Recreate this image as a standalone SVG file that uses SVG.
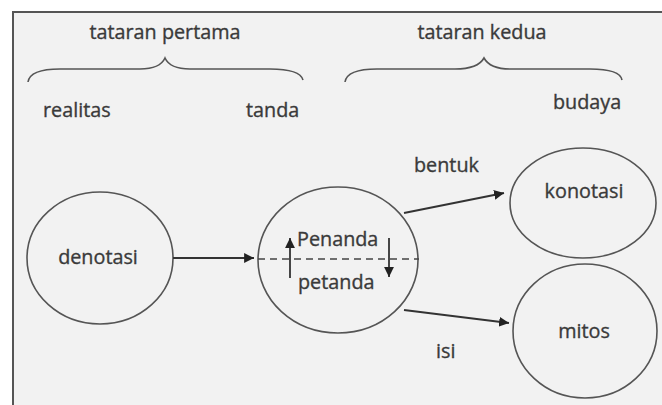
<svg xmlns="http://www.w3.org/2000/svg" width="662" height="405" viewBox="0 0 662 405">
<defs>
<style>
.t{font-family:"Open Sans","Noto Sans",sans-serif;font-size:19.8px;fill:#3a3a3a;stroke:#3a3a3a;stroke-width:0.35}
.m{text-anchor:middle}
.c{fill:none;stroke:#555;stroke-width:1.6}
.l{fill:none;stroke:#333;stroke-width:1.8}
.b{fill:none;stroke:#555;stroke-width:1.6}
</style>
<marker id="ah" viewBox="0 0 10 10" refX="10" refY="5" markerWidth="5.5" markerHeight="5.5" orient="auto" markerUnits="strokeWidth">
<path d="M0,0 L10,5 L0,10 Z" fill="#222"/>
</marker>
</defs>
<rect x="0" y="0" width="662" height="405" fill="#ffffff"/>
<rect x="13" y="12" width="649" height="393" fill="#f2f2f2"/>
<path d="M13,405 V12 H662" fill="none" stroke="#555" stroke-width="2"/>
<g id="labels">
<text class="t m" x="165" y="39">tataran pertama</text>
<text class="t m" x="482" y="39">tataran kedua</text>
<text class="t" x="43" y="117">realitas</text>
<text class="t" x="246" y="117">tanda</text>
<text class="t" x="553" y="109">budaya</text>
<text class="t" x="414" y="172">bentuk</text>
<text class="t" x="436" y="358">isi</text>
</g>
<g id="braces">
<path class="b" d="M28,82 Q30,69 60,69 L140,69 Q160,69 165,58 Q170,69 190,69 L270,69 Q300,69 303,80"/>
<path class="b" d="M345,82 Q347,69 377,69 L455,69 Q478,69 484,58 Q490,69 510,69 L590,69 Q620,69 622,80"/>
</g>
<g id="denotasi">
<ellipse class="c" cx="100" cy="258" rx="73" ry="66"/>
<text class="t m" x="98" y="264">denotasi</text>
</g>
<g id="tanda">
<ellipse class="c" cx="338" cy="260" rx="80" ry="73"/>
<line x1="258" y1="259" x2="419" y2="259" stroke="#444" stroke-width="1.6" stroke-dasharray="7,5"/>
<text class="t" x="297" y="246">Penanda</text>
<text class="t" x="298" y="289">petanda</text>
<line class="l" x1="290" y1="278" x2="290" y2="238" marker-end="url(#ah)"/>
<line class="l" x1="389" y1="238" x2="389" y2="277" marker-end="url(#ah)"/>
</g>
<g id="konotasi">
<ellipse class="c" cx="583" cy="203" rx="73" ry="55"/>
<text class="t m" x="584" y="198">konotasi</text>
</g>
<g id="mitos">
<ellipse class="c" cx="585" cy="331" rx="72" ry="67"/>
<text class="t m" x="584" y="338">mitos</text>
</g>
<g id="connectors">
<line class="l" x1="173" y1="258" x2="254" y2="258" marker-end="url(#ah)"/>
<line class="l" x1="404" y1="213" x2="504" y2="193" marker-end="url(#ah)"/>
<line class="l" x1="404" y1="310" x2="509" y2="323" marker-end="url(#ah)"/>
</g>
</svg>
